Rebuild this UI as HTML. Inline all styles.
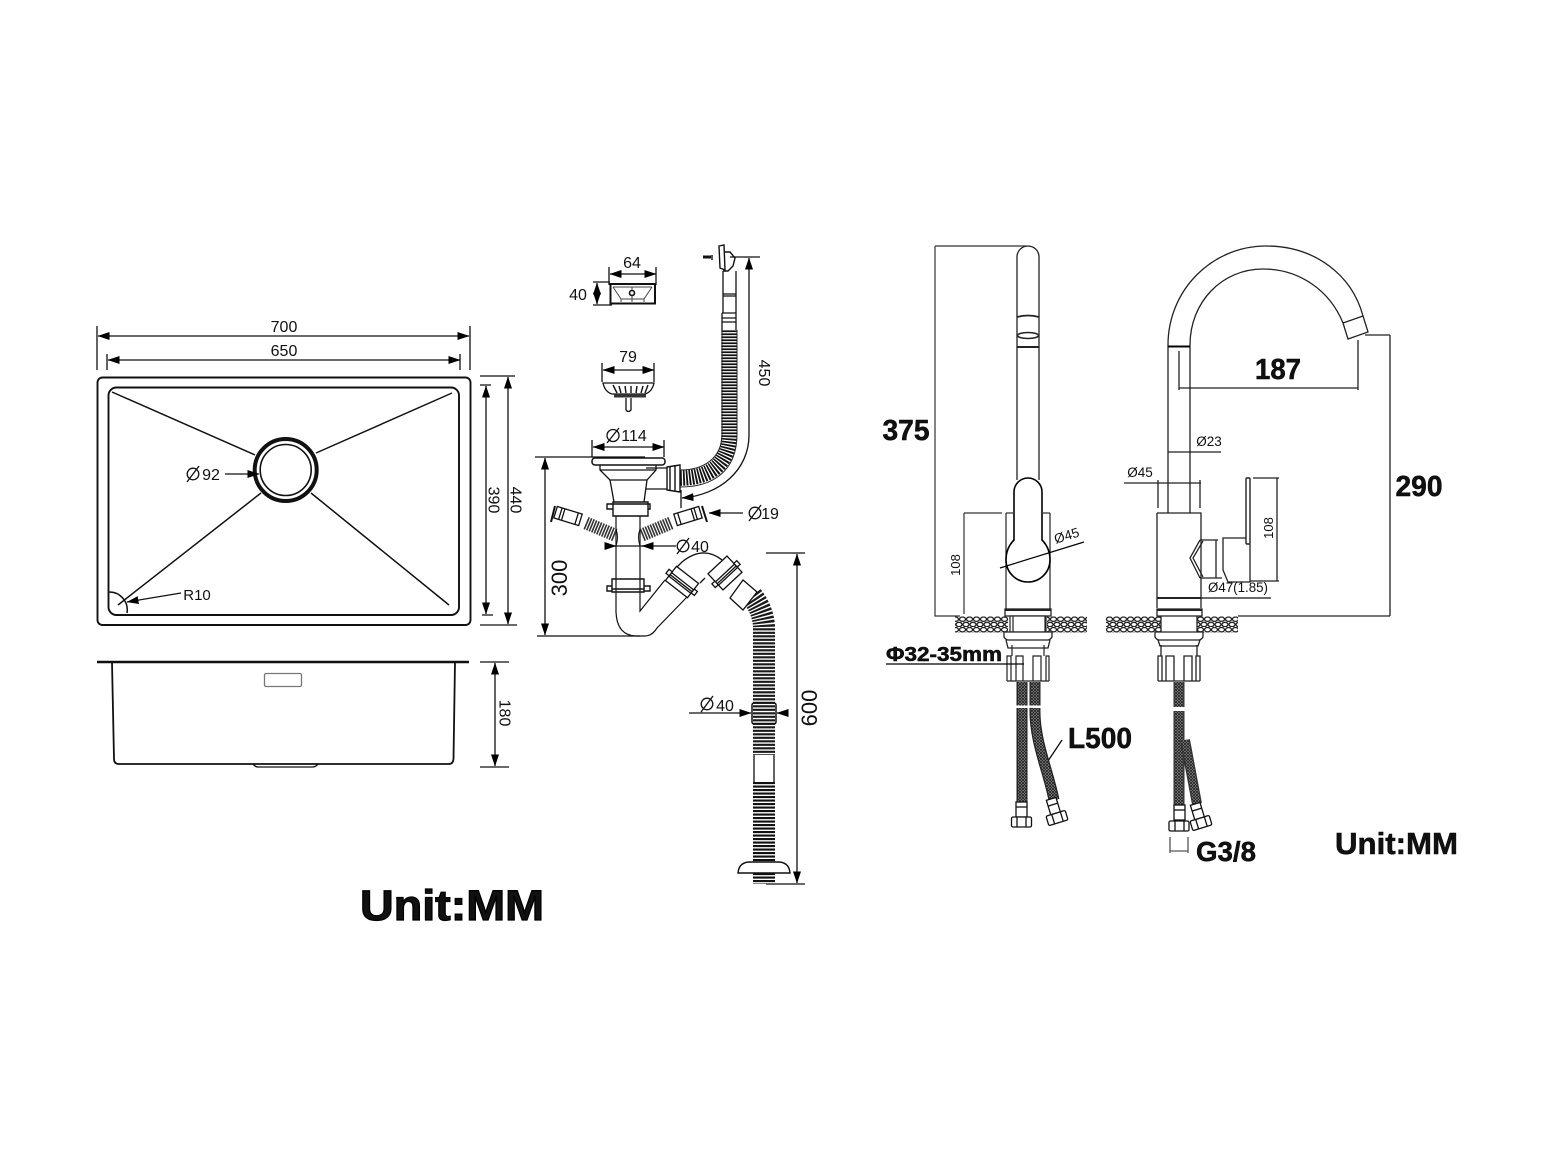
<!DOCTYPE html>
<html><head><meta charset="utf-8"><title>Sink and faucet dimensions</title>
<style>
html,body{margin:0;padding:0;background:#fff}
svg{display:block}
text{font-family:"Liberation Sans",sans-serif;fill:#111}
.t{font-size:16px;text-anchor:middle}
.s{font-size:13px;text-anchor:middle}
.b{font-weight:bold;text-anchor:middle;stroke:#000;stroke-width:.5px}
</style></head><body>
<svg xmlns="http://www.w3.org/2000/svg" width="1552" height="1164" viewBox="0 0 1552 1164">
<defs>
<marker id="a" viewBox="0 0 12 8" refX="11.5" refY="4" markerWidth="12" markerHeight="8" markerUnits="userSpaceOnUse" orient="auto-start-reverse"><path d="M0 0L12 4L0 8Z" fill="#000"/></marker>
<pattern id="h" x="0" y="616.5" width="14" height="10.5" patternUnits="userSpaceOnUse"><rect width="14" height="10.5" fill="#fff"/><g fill="none" stroke="#222" stroke-width="1.300"><ellipse cx="3.500" cy="2.700" rx="3" ry="2.200"/><ellipse cx="10.500" cy="2.700" rx="3" ry="2.200"/><ellipse cx="0" cy="8" rx="3" ry="2.200"/><ellipse cx="7" cy="8" rx="3" ry="2.200"/><ellipse cx="14" cy="8" rx="3" ry="2.200"/></g></pattern>
<pattern id="br" width="3" height="3" patternUnits="userSpaceOnUse"><rect width="3" height="3" fill="#999"/><path d="M0 0L3 3M3 0L0 3" stroke="#222" stroke-width=".9"/></pattern>
</defs>
<rect width="1552" height="1164" fill="#fff"/>

<!-- SINK TOP -->
<g fill="none" stroke="#111">
<rect x="97.500" y="377.500" width="373" height="247.500" rx="5" stroke-width="1.900"/>
<rect x="108.500" y="387.500" width="350.500" height="227.500" rx="8" stroke-width="1.900"/>
<circle cx="285.700" cy="470" r="31" stroke-width="4"/>
<circle cx="285.700" cy="470" r="25.500" stroke-width="1.600"/>
<g stroke-width="1.500">
<path d="M112 392L255 455M452 393L316 453M118 605L261 493M449 605L311 493"/>
<path d="M109 592A18 18 0 0 1 127 613"/>
</g>
<g stroke-width="1.300">
<path d="M97 326V370M470 326V370M107 354V370M460 354V370"/>
<path d="M480 376H515M480 385H491M482 615H493M480 625H517"/>
<path d="M98 336H469" marker-start="url(#a)" marker-end="url(#a)"/>
<path d="M108 360H460" marker-start="url(#a)" marker-end="url(#a)"/>
<path d="M486 386V614" marker-start="url(#a)" marker-end="url(#a)"/>
<path d="M508 377V624" marker-start="url(#a)" marker-end="url(#a)"/>
<path d="M225 474H259" marker-end="url(#a)"/>
<path d="M181 593L127 602" marker-end="url(#a)"/>
<circle cx="193" cy="474" r="5.800"/><path d="M187 482L199 466"/>
</g>
</g>
<text class="t" x="284" y="332">700</text>
<text class="t" x="284" y="356">650</text>
<text class="t" transform="translate(488.500,500) rotate(90)">390</text>
<text class="t" transform="translate(510.500,500) rotate(90)">440</text>
<text class="t" x="211" y="480">92</text>
<text class="t" x="197" y="600" style="font-size:15px">R10</text>

<!-- SINK SIDE -->
<g fill="none" stroke="#111">
<path d="M97 662H469" stroke-width="2.600"/>
<path d="M112 662L114 759Q114 764 119 764H449Q453 764 453.500 759L455 662" stroke-width="1.800"/>
<path d="M253 764Q255 767 259 767H312Q316 767 318 764" stroke-width="1.300"/>
<rect x="264.500" y="673.500" width="37" height="13" rx="1.500" stroke="#777" stroke-width="1.300"/>
<path d="M480 662H509M480 767H509" stroke-width="1.300"/>
<path d="M495 663V766" stroke-width="1.300" marker-start="url(#a)" marker-end="url(#a)"/>
</g>
<text class="t" transform="translate(499.500,713) rotate(90)">180</text>

<!-- OVERFLOW + STRAINER -->
<g fill="none" stroke="#111" stroke-width="1.300">
<path d="M609 267V285M656 267V285M593 282H610M593 305H612"/>
<path d="M610 274H656" marker-start="url(#a)" marker-end="url(#a)"/>
<path d="M597 283V304" marker-start="url(#a)" marker-end="url(#a)"/>
<rect x="610.500" y="284" width="44.500" height="19.500" stroke-width="2"/>
<path d="M613 287L621 299M652 287L644 299M621 299H644M621 299V302M644 299V302M613 287H652M632 287V290M632 296V302" stroke="#444" stroke-width="1"/>
<circle cx="632" cy="293" r="2.500" stroke-width="1.600"/>
<path d="M602 363V382M654 363V382"/>
<path d="M603 370H654" marker-start="url(#a)" marker-end="url(#a)"/>
<path d="M603 383H654Q652 392 645 394H612Q605 392 603 383Z"/>
<path d="M613 385L617 393M619 386L621 393M625 386L626 393M631 386V393M637 386L636 393M643 386L641 393M648 385L645 393" stroke-width="1.400"/>
<rect x="614" y="394" width="32" height="3.500" fill="#333" stroke="none"/>
<path d="M626 398V410Q628 413 631 410V398"/>
<!-- 114 -->
<path d="M592 440V457M664 440V457"/>
<path d="M593 447H664" marker-start="url(#a)" marker-end="url(#a)"/>
<circle cx="613" cy="435.500" r="6"/><path d="M607 443L619 428"/>
<path d="M535 457H645"/>
<rect x="592" y="458" width="73" height="7" rx="3" stroke-width="1.500"/>
<path d="M600 465V470L610 480L614 502M656 465V470L647 480L644 502M600 470H656M610 480H647"/>
<path d="M613 502H648V516H613ZM607 504H613V509H607ZM648 504H650V509H648ZM613 504H648" stroke-width="1.400"/>
<path d="M616 516V612Q617 636 637 636H645Q652 636 657 628L687 597M640 516V611L665 580" stroke-width="1.200"/>
<path d="M612 579H644V592H612ZM607 586H612V591H607ZM644 586H650V591H644ZM612 589H644" stroke-width="1.400"/>
<path d="M646 468H667M646 489H667"/>
<path d="M667 467L680 465V492L667 490ZM670 467V490M675 466V491" stroke-width="1.400"/>
</g>
<path d="M680 478C708 478 729 466 729 434V330" fill="none" stroke="#111" stroke-width="15.500" stroke-dasharray="1.800 1.200"/>
<path d="M680 470C704 470 722 458 722 434V330M680 487C712 487 737 472 737 434V330" fill="none" stroke="#222" stroke-width="1"/>
<g fill="none" stroke="#111" stroke-width="1.300">
<path d="M722 313V330M736 313V330M722 313H736M722 318H736M722 322H736M723 271V313M736 271V313M723 294H736M723 296H736"/>
<path d="M719 246L724 245L725 270L720 268ZM725 252H730L735 258L733 266L728 271H723M712 255V260" stroke-width="1.400"/>
<path d="M703 257H711" stroke-width="3"/>
<!-- 450 -->
<path d="M730 257H760M681 490V508"/>
<path d="M749 258V435C749 470 720 495 682 498" marker-start="url(#a)" marker-end="url(#a)"/>
<!-- side tailpieces -->
<g transform="translate(568,516) rotate(17)">
<rect x="-13" y="-6" width="26" height="12"/><path d="M-8 -6V6M-5 -6V6M9 -6V6"/>
</g>
<path d="M555 506L551 522" stroke-width="2"/>
<g transform="translate(688,516) rotate(-17)">
<rect x="-13" y="-6" width="26" height="12"/><path d="M8 -6V6M5 -6V6M-9 -6V6"/>
</g>
<path d="M702 506L707 522" stroke-width="2"/>
<path d="M743 513H709" marker-end="url(#a)"/>
<circle cx="755" cy="513" r="5.800"/><path d="M749 521L761 505"/>
<!-- 40 dim -->
<path d="M605 546H616" marker-end="url(#a)"/>
<path d="M616 546H646"/>
<path d="M676 546H642" marker-end="url(#a)"/>
<circle cx="683" cy="546" r="5.800"/><path d="M677 554L689 538"/>
<!-- 300 -->
<path d="M537 636H640"/>
<path d="M545 458V635" marker-start="url(#a)" marker-end="url(#a)"/>
</g>
<path d="M586 523L615 535" stroke="#333" stroke-width="13" stroke-dasharray="1.600 1.100" fill="none"/>
<path d="M642 535L671 523" stroke="#333" stroke-width="13" stroke-dasharray="1.600 1.100" fill="none"/>
<path d="M616 529Q619 537 616 546M640 529Q637 537 640 546" fill="none" stroke="#111"/>
<text class="t" x="632" y="268">64</text>
<text class="t" x="578" y="300">40</text>
<text class="t" x="628" y="362">79</text>
<text class="t" x="634" y="441">114</text>
<text class="t" transform="translate(759,373) rotate(90)">450</text>
<text class="t" x="770" y="519">19</text>
<text class="t" x="700" y="552">40</text>
<text class="t" transform="translate(567,578) rotate(-90)" style="font-size:22px">300</text>

<!-- TRAP ELBOW AND DRAIN HOSE -->
<path d="M752 596C760 606 764 618 764 628V755" fill="none" stroke="#1a1a1a" stroke-width="22" stroke-dasharray="2.100 1.400"/>
<path d="M764 782V862" fill="none" stroke="#111" stroke-width="22" stroke-dasharray="2.100 1.400"/>
<path d="M764 873V884" fill="none" stroke="#111" stroke-width="22" stroke-dasharray="2.100 1.400"/>
<g fill="none" stroke="#111" stroke-width="1.300">
<path d="M677 567L682 562Q703 545 722 560M700 583L705 578"/>
<path d="M730 598L743 580L757 592L743 610Z" fill="#fff"/>
<g transform="translate(682,582) rotate(38)">
<rect x="-14" y="-9" width="28" height="18" fill="#fff"/>
<path d="M-14 -1H14M-14 1.500H14M-14 3.500H14" stroke-width="1.300"/>
<rect x="-18" y="-2" width="4" height="5" fill="#fff"/><rect x="14" y="-2" width="4" height="5" fill="#fff"/>
</g>
<g transform="translate(725,573) rotate(-43)">
<rect x="-13" y="-11" width="26" height="22" fill="#fff"/>
<path d="M-13 0H13M-13 2.500H13M-13 4.500H13" stroke-width="1.300"/>
<rect x="-17" y="-1" width="4" height="5" fill="#fff"/><rect x="13" y="-1" width="4" height="5" fill="#fff"/>
</g>
</g>
<g fill="none" stroke="#111" stroke-width="1.300">
<path d="M754 755V782M774 755V782"/>
<rect x="752" y="703" width="24" height="21" rx="2" stroke-width="1.500"/>
<path d="M738 873Q739 862 750 862H778Q789 862 790 873Z" fill="#fff" stroke-width="1.400"/>
<path d="M766 553H805M766 884H805"/>
<path d="M797 554V883" marker-start="url(#a)" marker-end="url(#a)"/>
<path d="M689 713H751" marker-end="url(#a)"/>
<path d="M788 713H777" marker-end="url(#a)"/>
<circle cx="707" cy="704" r="5.800"/><path d="M701 712L713 696"/>
</g>
<text class="t" x="725" y="711">40</text>
<text class="t" transform="translate(817,708) rotate(-90)" style="font-size:22px">600</text>

<!-- FAUCET 1 -->
<rect x="955" y="616.500" width="53" height="16" fill="url(#h)"/>
<rect x="1047" y="616.500" width="40" height="16" fill="url(#h)"/>
<g fill="none" stroke="#222" stroke-width="1.200">
<path d="M1017 480V257A11 11 0 0 1 1039 257V480" stroke-width="1.300"/>
<path d="M1017 317Q1028 314 1039 317" stroke-width="1.700"/>
<ellipse cx="1028" cy="335.500" rx="10.500" ry="3" stroke-width="1.600"/>
<path d="M1017 347H1039" stroke-width="2"/>
<path d="M1006 513V609M1050 513V609"/>
<path d="M1014 540V492A14 14 0 0 1 1042 492V540Q1050 548 1050 560A22 22 0 0 1 1006 560Q1006 548 1014 540Z" fill="#fff" stroke="#000" stroke-width="1.600"/>
<path d="M964 513H1002M1042 513H1050M1006 513H1014M964 513V614" stroke="#333"/>
<path d="M1000 568L1084 542" stroke="#000" stroke-width="1.200"/>
<path d="M935 246H1027M935 246V616H960" stroke="#333"/>
<rect x="1005" y="609" width="46" height="7" fill="#fff" stroke-width="1.300"/>
<path d="M1005 610H1051" stroke-width="2"/>
<rect x="1010" y="616" width="36" height="16" fill="#fff"/>
<path d="M1013 616V632M1045 616V632"/>
<path d="M1004 632H1052V637Q1050 640 1048 640H1008Q1006 640 1004 637ZM1006 640L1008 648H1048L1050 640" fill="#fff" stroke-width="1.300"/>
<path d="M1012 645V656M1044 645V656"/>
<path d="M1007 681V656H1011V681M1016 681V656H1023V681M1033 681V656H1041V681M1046 681V656H1049V681M1007 681H1049"/>
<path d="M886 664H1024" stroke="#000" stroke-width="1.300"/>
<path d="M1062 740L1048 761" stroke="#000" stroke-width="1.200"/>
</g>
<path d="M1022 682V705.500M1022 708V802" fill="none" stroke="#222" stroke-width="11"/>
<path d="M1022 682V705.500M1022 708V802" fill="none" stroke="url(#br)" stroke-width="8.500"/>
<path d="M1035 682V705.500M1035 708C1034 740 1048 770 1054 800" fill="none" stroke="#222" stroke-width="11"/>
<path d="M1035 682V705.500M1035 708C1034 740 1048 770 1054 800" fill="none" stroke="url(#br)" stroke-width="8.500"/>
<g fill="none" stroke="#111" stroke-width="1.300">
<rect x="1016" y="802" width="11" height="15" fill="#fff"/>
<path d="M1016 807H1027"/>
<rect x="1011.500" y="817" width="20" height="10" rx="1.500" fill="#fff"/>
<path d="M1017 817V827M1026 817V827"/>
<g transform="translate(1057,818) rotate(-17)">
<rect x="-10" y="-5" width="20" height="10" rx="1.500" fill="#fff"/>
<path d="M-4 -5V5M5 -5V5"/>
<rect x="-5" y="-20" width="10" height="15" fill="#fff"/><path d="M-5 -14H5"/>
</g>
</g>

<text x="906" y="440" class="b" style="font-size:29px" textLength="47" lengthAdjust="spacingAndGlyphs">375</text>
<text x="1100" y="748" class="b" style="font-size:29px" textLength="64" lengthAdjust="spacingAndGlyphs">L500</text>
<text x="944" y="661" class="b" style="font-size:20px;font-family:'Liberation Sans','DejaVu Sans',sans-serif" textLength="116" lengthAdjust="spacingAndGlyphs">Φ32-35mm</text>
<text class="s" transform="translate(960,565) rotate(-90)">108</text>
<text class="s" transform="translate(1068,540) rotate(-17)" style="font-size:13.500px">Ø45</text>

<!-- FAUCET 2 -->
<rect x="1106" y="616.500" width="55" height="16" fill="url(#h)"/>
<rect x="1197" y="616.500" width="41" height="16" fill="url(#h)"/>
<g fill="none" stroke="#222" stroke-width="1.300">
<path d="M1168 513V345C1168 290 1212 246 1266 246C1315 246 1352 275 1363 316L1368 332L1348 339L1343 323C1330 291 1300 269 1263 269C1222 269 1190 302 1190 345V513"/>
<path d="M1343 323L1363 316"/>
<path d="M1168 346.500H1190" stroke="#000" stroke-width="2"/>
<path d="M1157 513H1201V608M1157 513V608"/>
<path d="M1157 598H1201" stroke-width="2"/>
<path d="M1201 598H1271" stroke="#111"/>
<path d="M1157 609H1202V616H1157Z" fill="#fff"/><path d="M1157 610H1202" stroke-width="2"/>
<path d="M1161 616V632M1197 616V632"/>
<path d="M1155 632H1203V637Q1201 640 1199 640H1159Q1157 640 1155 637ZM1158 640L1160 646H1198L1200 640" fill="#fff"/>
<path d="M1161 645V656M1197 645V656"/>
<path d="M1158 681V656H1162V681M1166 681V656H1174V681M1184 681V656H1192V681M1196 681V656H1200V681M1158 681H1200"/>
<path d="M1200 540L1190 558L1200 578M1203 541L1193 558L1203 577"/>
<path d="M1200 540H1218M1200 578H1222M1216 540V578"/>
<path d="M1223 538H1247L1250 544V582H1228L1223 570Z"/>
<rect x="1246" y="478" width="4" height="66" rx="1" fill="#fff" stroke-width="1.400"/>
<path d="M1253 478H1279M1250 581H1279M1277 478V581"/>
<path d="M1124 483H1157M1157 483H1201M1158 480V508M1200 480V508"/>
<path d="M1168 452H1221"/>
<path d="M1179 351V390M1358 340V390M1179 388H1358"/>
<path d="M1365 335H1390M1390 335V616M1238 616H1390"/>
</g>
<path d="M1179 682V707M1179 711V805" fill="none" stroke="#333" stroke-width="11"/>
<path d="M1179 682V707M1179 711V805" fill="none" stroke="url(#br)" stroke-width="8.500"/>
<path d="M1185 740L1197 804" fill="none" stroke="#333" stroke-width="10"/>
<path d="M1185 740L1197 804" fill="none" stroke="url(#br)" stroke-width="7.500"/>
<g fill="none" stroke="#111" stroke-width="1.300">
<rect x="1174" y="805" width="11" height="15" fill="#fff"/><path d="M1174 810H1185"/>
<rect x="1169" y="821" width="20" height="10" rx="1.500" fill="#fff"/><path d="M1175 821V831M1184 821V831"/>
<g transform="translate(1201,823) rotate(-17)">
<rect x="-10" y="-5" width="20" height="10" rx="1.500" fill="#fff"/><path d="M-4 -5V5M5 -5V5"/>
<rect x="-5" y="-20" width="10" height="15" fill="#fff"/><path d="M-5 -14H5"/>
</g>
<path d="M1170 837V853M1188 837V853M1170 851H1188" stroke="#555"/>
</g>
<text class="s" x="1209" y="446" style="font-size:13.500px">Ø23</text>
<text class="s" x="1140" y="477" style="font-size:13.500px">Ø45</text>
<text class="s" transform="translate(1273,528) rotate(-90)">108</text>
<text class="s" x="1238" y="592" style="font-size:13.500px" textLength="60" lengthAdjust="spacingAndGlyphs">Ø47(1.85)</text>
<text x="1278" y="379" class="b" style="font-size:29px" textLength="46" lengthAdjust="spacingAndGlyphs">187</text>
<text x="1419" y="496" class="b" style="font-size:29px" textLength="47" lengthAdjust="spacingAndGlyphs">290</text>
<text x="1226" y="861" class="b" style="font-size:28px" textLength="60" lengthAdjust="spacingAndGlyphs">G3/8</text>

<text x="452" y="920" class="b" style="font-size:43px;stroke-width:1.200px" textLength="184" lengthAdjust="spacingAndGlyphs">Unit:MM</text>
<text x="1396.500" y="854" class="b" style="font-size:31px" textLength="123" lengthAdjust="spacingAndGlyphs">Unit:MM</text>
</svg>
</body></html>
